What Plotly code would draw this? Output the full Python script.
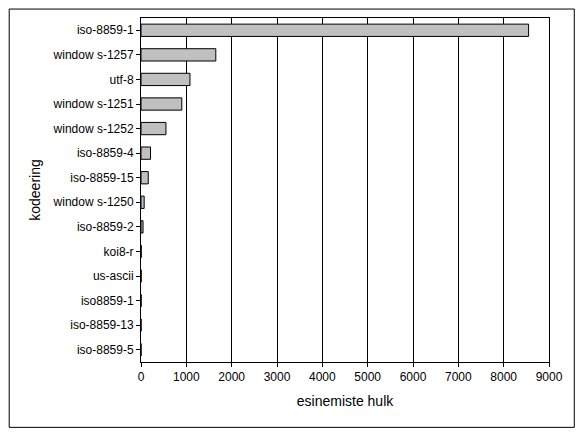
import plotly.graph_objects as go

categories = ["iso-8859-1","window s-1257","utf-8","window s-1251","window s-1252","iso-8859-4",
              "iso-8859-15","window s-1250","iso-8859-2","koi8-r","us-ascii","iso8859-1",
              "iso-8859-13","iso-8859-5"]
values = [8550,1650,1080,900,550,210,160,70,45,5,4,3,2,1]

fig = go.Figure(go.Bar(x=values, y=categories, orientation="h",
                       marker=dict(color="#c0c0c0", line=dict(color="black", width=1)),
                       width=0.5))
fig.update_layout(
    width=568, height=421, paper_bgcolor="white", plot_bgcolor="white",
    margin=dict(l=133, r=27, t=10, b=67),
    font=dict(family="Liberation Sans, Arial", size=12, color="black"),
    showlegend=False,
    xaxis=dict(range=[0,9000], dtick=1000, showgrid=True, gridcolor="black", gridwidth=1,
               showline=True, linecolor="black", ticks="outside", ticklen=4, tickcolor="black",
               title=dict(text="esinemiste hulk", standoff=12), mirror=True, zeroline=False),
    yaxis=dict(autorange="reversed", showline=True, linecolor="black", mirror=True,
               ticks="outside", ticklen=4, tickcolor="black",
               title=dict(text="kodeering", standoff=8)),
    shapes=[dict(type="rect", xref="paper", yref="paper", x0=-0.323, x1=1.062, y0=-0.19, y1=1.026,
                 line=dict(color="black", width=1))],
)
fig.write_html("out.html")
